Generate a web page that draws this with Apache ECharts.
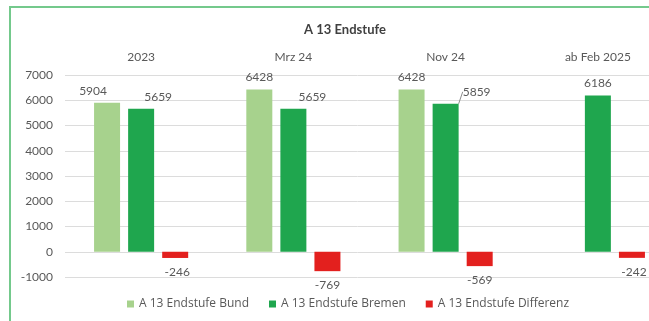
<!DOCTYPE html>
<html>
<head>
<meta charset="utf-8">
<script src="https://cdn.jsdelivr.net/npm/echarts@6/dist/echarts.min.js"></script>
<style>
  html, body { margin: 0; padding: 0; background: #ffffff; }
  #chart { width: 649px; height: 321px; }
</style>
</head>
<body>
<div id="chart"></div>
<script>
// Stichtage / Kategorien
const categories = ['2023', 'Mrz 24', 'Nov 24', 'ab Feb 2025'];

// Besoldung A 13 Endstufe (Euro)
const bund = [5904, 6428, 6428, null];
const bremen = [5659, 5659, 5859, 6186];
const differenz = [-246, -769, -569, -242];

// Achsenbeschriftung
const yTicks = { min: -1000, max: 7000, step: 1000 };

const seriesNames = ['A 13 Endstufe Bund', 'A 13 Endstufe Bremen', 'A 13 Endstufe Differenz'];
const colors = ['#a7d28d', '#1fa64e', '#e3201e'];

// horizontal nudges of single value labels (by series, then category)
const labelDx = [
  [-14, 0, 0, 0],
  [17, 19, 31, 0],
  [2, 0, 0, 2]
];

const FONT = 'Lato';
const GREY = '#595959';

function buildSeries(values, idx) {
  return {
    name: seriesNames[idx],
    type: 'bar',
    barWidth: 26,
    barGap: '31%',
    itemStyle: { color: colors[idx] },
    data: values.map((v, i) => {
      const item = { value: v };
      if (idx === 1 && i === 2) {
        item.labelLine = { show: true };
      }
      return item;
    }),
    label: {
      show: true,
      position: 'outside',
      distance: idx === 2 ? 8 : 6,
      color: GREY,
      fontFamily: FONT,
      fontSize: 12
    },
    labelLine: {
      show: false,
      lineStyle: { color: '#8c8c8c', width: 1 }
    },
    labelLayout: function (p) {
      return { dx: labelDx[idx][p.dataIndex] || 0 };
    }
  };
}

const chart = echarts.init(document.getElementById('chart'), null, { renderer: 'canvas' });

chart.setOption({
  animation: false,
  backgroundColor: '#ffffff',
  title: {
    text: 'A 13 Endstufe',
    left: 340,
    top: 18,
    textAlign: 'center',
    textStyle: { fontFamily: FONT, fontSize: 13, fontWeight: 'bold', color: '#404040' }
  },
  graphic: [{
    type: 'rect',
    shape: { x: 10, y: 7, width: 660, height: 330 },
    style: { fill: 'none', stroke: '#74c98c', lineWidth: 2 },
    silent: true,
    z: 100
  }],
  legend: {
    bottom: 6,
    left: 122,
    itemWidth: 7,
    itemHeight: 7,
    itemGap: 20,
    icon: 'rect',
    textStyle: { fontFamily: 'Open Sans', fontSize: 12, color: GREY },
    data: seriesNames
  },
  grid: { left: 65, right: -25, top: 75, bottom: 44, outerBoundsMode: 'none', containLabel: false },
  xAxis: {
    type: 'category',
    position: 'top',
    data: categories,
    axisLine: { show: false, onZero: false },
    axisTick: { show: false },
    axisLabel: { margin: 12, fontFamily: FONT, fontSize: 12, color: GREY }
  },
  yAxis: {
    type: 'value',
    min: yTicks.min,
    max: yTicks.max,
    interval: yTicks.step,
    axisLine: { show: false },
    axisTick: { show: false },
    axisLabel: { margin: 12, fontFamily: FONT, fontSize: 12, color: GREY, formatter: v => String(v) },
    splitLine: { lineStyle: { color: '#dcdcdc', width: 1 } }
  },
  series: [buildSeries(bund, 0), buildSeries(bremen, 1), buildSeries(differenz, 2)]
});
</script>
</body>
</html>
